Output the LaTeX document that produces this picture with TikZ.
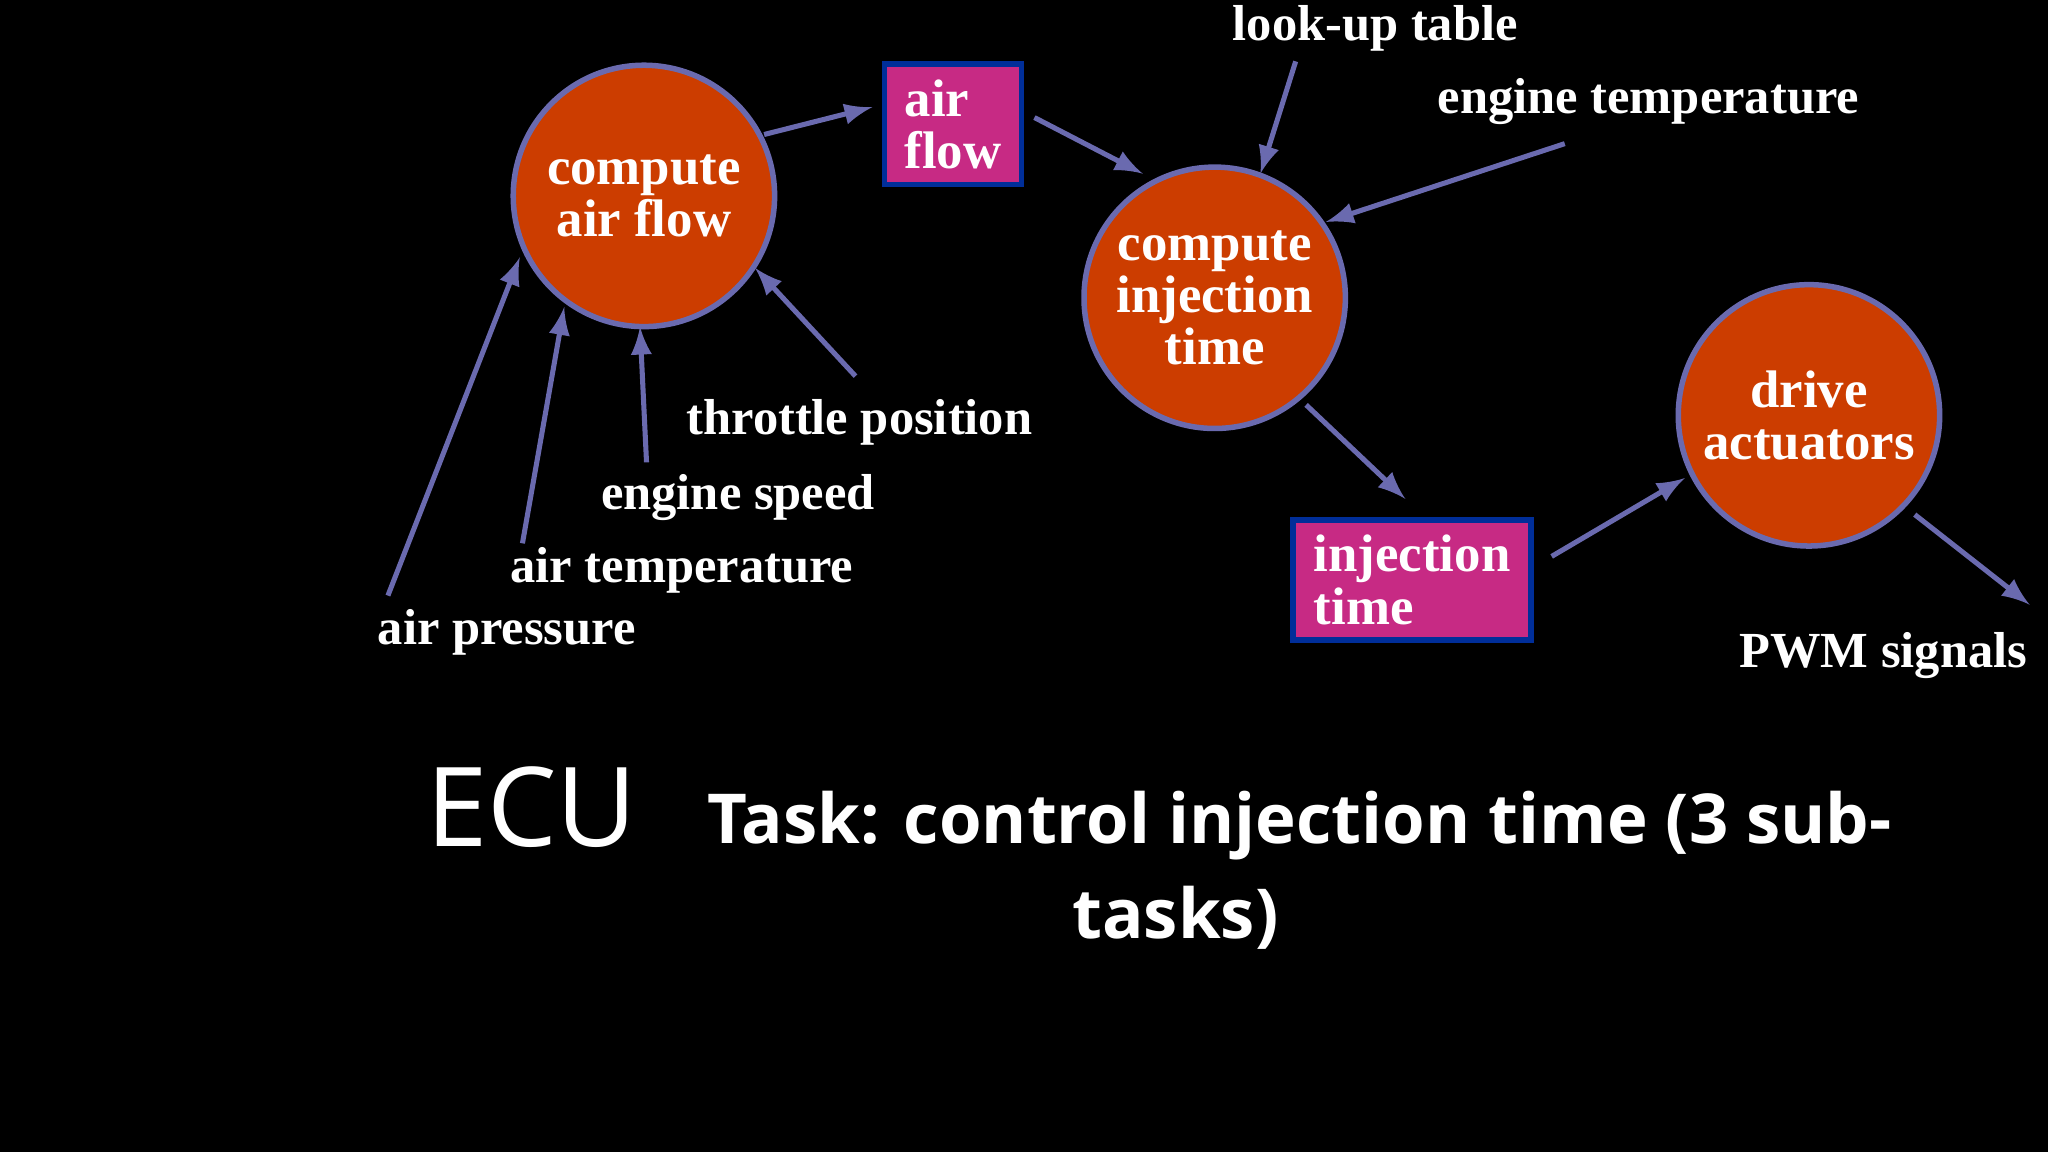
\documentclass[tikz,border=0pt]{standalone}
\usepackage{fontspec}
\setmainfont{Liberation Serif}
\newfontfamily\sans{Open Sans}
\begin{document}
\begin{tikzpicture}[x=0.01cm,y=-0.01cm,
  proc/.style={circle,draw=blue!30!gray!90!white,line width=1.2pt,fill=orange!60!red!80!black,minimum size=2cm,inner sep=0pt,align=center,text=white,font=\bfseries\fontsize{11.5}{11.4}\selectfont},
  store/.style={rectangle,draw=blue!70!cyan!60!black,line width=1.2pt,fill=magenta!80!black,align=left,text=white,font=\bfseries\fontsize{11.5}{11.4}\selectfont,anchor=north west,inner sep=3pt},
  lab/.style={text=white,font=\bfseries\fontsize{11}{11.4}\selectfont},
  arr/.style={-latex,draw=blue!30!gray!90!white,line width=1.1pt}]
\fill[black] (0,0) rectangle (1568,882);
\useasboundingbox (0,0) rectangle (1568,882);
\node[proc] (caf) at (493,150) {compute\\air flow};
\node[proc] (cit) at (930,228) {compute\\injection\\time};
\node[proc] (da) at (1385,318) {drive\\actuators};
\node[store,minimum width=1.05cm,minimum height=0.92cm] (af) at (675,47) {air\\flow};
\node[store,minimum width=1.82cm,minimum height=0.92cm] (it) at (988,396) {injection\\time};
\node[lab] (lut) at (1053,22) {look-up table};
\node[lab] (et) at (1262,78) {engine temperature};
\node[lab] (pwm) at (1442,502) {PWM signals};
\node[lab] (tp) at (658,323) {throttle position};
\node[lab] (es) at (565,381) {engine speed};
\node[lab] (at) at (522,437) {air temperature};
\node[lab] (ap) at (388,484) {air pressure};
\coordinate (a1) at (585,103); \coordinate (a2) at (668,82);
\coordinate (b1) at (792,90); \coordinate (b2) at (875,133);
\coordinate (c1) at (992,47); \coordinate (c2) at (965,133);
\coordinate (d1) at (1198,110); \coordinate (d2) at (1015,170);
\coordinate (e1) at (1000,310); \coordinate (e2) at (1076,382);
\coordinate (f1) at (1188,426); \coordinate (f2) at (1290,366);
\coordinate (g1) at (1466,394); \coordinate (g2) at (1554,463);
\coordinate (h1) at (655,288); \coordinate (h2) at (578,205);
\coordinate (i1) at (495,354); \coordinate (i2) at (490,250);
\coordinate (j1) at (400,416); \coordinate (j2) at (432,235);
\coordinate (k1) at (297,456); \coordinate (k2) at (398,197);
\foreach \p in {a,b,c,d,e,f,g,h,i,j,k} \draw[arr] (\p1) -- (\p2);
\node[text=white,font=\sans\fontsize{24}{28}\selectfont] (ecu) at (407,618) {ECU};
\node[text=white,font=\sans\bfseries\fontsize{15}{18}\selectfont] (t1) at (995,632) {Task: control injection time (3 sub-};
\node[text=white,font=\sans\bfseries\fontsize{15}{18}\selectfont] (t2) at (900,703) {tasks)};
\end{tikzpicture}
\end{document}
